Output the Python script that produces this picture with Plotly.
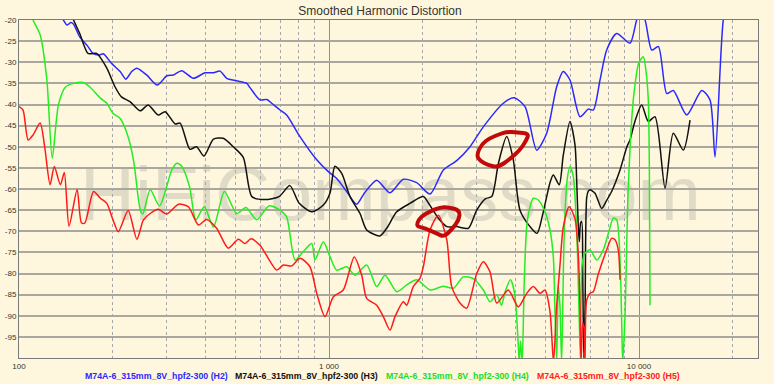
import plotly.graph_objects as go

# ---------------- data (frequency Hz, level dB) ----------------
h2 = [(135, -18), (139, -20), (143, -21.2), (147, -20.6), (150, -21), (157, -24), (167, -26.3),
      (173, -27.9), (181, -28.3), (187, -28), (199, -30.3), (212, -32.2), (221, -34), (231, -32.2),
      (240, -31.4), (258, -33), (279, -35.4), (300, -33.2), (315, -33), (335, -32), (365, -33.8),
      (398, -32.5), (424, -32.5), (445, -32.1), (468, -33.8), (504, -34.4), (543, -35), (556, -36),
      (599, -38.9), (630, -38.8), (653, -39.7), (695, -41.3), (730, -42.5), (806, -47.6), (913, -53.1),
      (995, -55.9), (1059, -57.5), (1140, -60.6), (1228, -63.6), (1300, -61), (1425, -57.9),
      (1573, -60.9), (1737, -57.7), (1918, -58.5), (2118, -61.2), (2338, -55.5), (2582, -53.3),
      (2850, -50), (3146, -45.3), (3650, -39.7), (3950, -38.4), (4289, -40.5), (4677, -50.8),
      (5038, -46.8), (5426, -35.8), (5698, -32.2), (5989, -34.2), (6452, -42.9), (6864, -41.1),
      (7123, -41.3), (7486, -34.2), (7867, -27.1), (8475, -23.2), (9354, -25.5), (9831, -20),
      (10100, -18.5), (10457, -20), (10990, -27.1), (11550, -26.3), (12290, -37.4), (12902, -36.7),
      (14256, -42.5), (15940, -36.7), (16944, -38.9), (17588, -52.4), (18702, -20), (19300, -16)]

h3 = [(145, -17), (150, -20), (157, -23.2), (167, -27.9), (178, -27.9), (192, -31.4), (204, -35.8),
      (214, -38.2), (228, -39.3), (246, -41.5), (261, -40.1), (281, -42.5), (296, -41.7), (319, -44.6),
      (331, -44.4), (356, -50.6), (374, -50), (395, -52.2), (424, -48.2), (456, -48), (491, -50),
      (529, -52.5), (564, -61.8), (620, -62.5), (690, -61.8), (748, -59.2), (800, -63.3), (880, -65.4),
      (959, -63.8), (1007, -61), (1045, -54.6), (1099, -56.3), (1169, -61.8), (1259, -65.8),
      (1323, -69.7), (1460, -71.1), (1535, -69.3), (1654, -65.4), (1825, -63.4), (2015, -61.8),
      (2100, -63.5), (2253, -66.9), (2400, -68.9), (2582, -68.9), (2815, -69.3), (2996, -65),
      (3200, -62.3), (3350, -61.8), (3520, -53.9), (3743, -47.6), (3931, -53.1), (4132, -65),
      (4451, -68.9), (4690, -70.5), (4912, -65.4), (5163, -58.5), (5291, -56.7), (5530, -59),
      (5698, -52), (5989, -44), (6215, -49.5), (6295, -58), (6371, -69), (6420, -72.5), (6480, -68),
      (6534, -67.7), (6583, -80), (6640, -100), (6700, -88), (6782, -62), (6864, -60.5), (6950, -60.2),
      (7214, -61), (7580, -64.6), (7867, -62.7), (8160, -60.6), (8686, -55.5), (9140, -50),
      (9354, -48.4), (9700, -44), (10202, -40.1), (10715, -44), (11262, -42.9), (12135, -59.8),
      (12902, -46.8), (13900, -50.8), (14608, -43.7)]

h4 = [(105, -14), (111, -20), (117, -23.5), (123, -34.2), (128, -52.7), (134, -40.1), (141, -35.9),
      (150, -35), (161, -34.8), (169, -35.8), (183, -38.5), (192, -39.7), (201, -42.1), (212, -43.3),
      (223, -46.8), (234, -53.1), (243, -62.6), (247, -65.3), (251, -65.9), (265, -60.2), (284, -64),
      (311, -55.5), (323, -53.9), (335, -54.6), (355, -59.5), (372, -67.3), (396, -64.2), (424, -69),
      (460, -60.6), (504, -65.8), (540, -64.4), (585, -67.3), (640, -64), (695, -65), (730, -66.6),
      (777, -76.8), (826, -74.8), (880, -72.9), (901, -76.8), (959, -72.5), (1007, -76), (1059, -79.2),
      (1140, -78.4), (1213, -80.4), (1323, -78), (1425, -83.1), (1516, -80.4), (1654, -84.3),
      (1781, -82.7), (1918, -81.5), (2118, -83.9), (2338, -83), (2518, -83.5), (2711, -80.8),
      (2921, -81.2), (3146, -83.9), (3306, -86.7), (3475, -85.1), (3600, -87.5), (3700, -84.3),
      (3850, -81.5), (3970, -84.7), (4080, -97), (4110, -101), (4150, -96), (4200, -101), (4260, -83),
      (4343, -68.9), (4451, -64.2), (4560, -62.2), (4730, -62.6), (4975, -65.4), (5163, -69.7),
      (5291, -76), (5358, -89), (5426, -101), (5491, -83), (5561, -88), (5630, -101), (5730, -72),
      (5860, -58), (5989, -54.7), (6138, -57), (6310, -72), (6410, -90), (6480, -101), (6550, -78),
      (6696, -75.2), (6950, -74.4), (7304, -76.8), (7671, -74.4), (8000, -70), (8263, -66.9),
      (8475, -67.3), (8686, -76.8), (8797, -92), (8860, -101), (9014, -90), (9230, -60), (9585, -38.9),
      (10000, -30), (10325, -28.7), (10530, -32), (10715, -38.9), (10800, -55), (10852, -87.5)]

h5 = [(100, -40.5), (103, -41.3), (107, -48.4), (111, -47.2), (117, -44.4), (121, -50), (126, -59),
      (130, -54.7), (136, -59), (140, -56.1), (145, -68.8), (154, -60.1), (159, -68), (163, -68.1),
      (174, -60.6), (183, -62.2), (192, -63.4), (201, -67.3), (209, -70.1), (225, -65.1), (240, -71.9),
      (252, -67.3), (265, -65.8), (281, -64.8), (300, -65.9), (327, -63.6), (352, -64.2), (379, -68.5),
      (403, -67.2), (434, -69.3), (473, -74), (510, -71.9), (536, -72.9), (560, -71.8), (599, -73.3),
      (678, -79.2), (712, -78), (758, -78.2), (806, -76.4), (868, -78.4), (913, -84.7), (971, -90.2),
      (1033, -85.5), (1112, -83.9), (1206, -76.1), (1275, -80.4), (1323, -85.9), (1425, -87.5),
      (1497, -90.2), (1573, -93.4), (1633, -90.2), (1737, -86.7), (1781, -87.5), (1870, -83.1),
      (1966, -81.1), (2015, -78.4), (2118, -69.7), (2253, -66.2), (2398, -72), (2488, -83.1),
      (2646, -87), (2781, -88.2), (2996, -80), (3146, -77.2), (3306, -79.6), (3475, -87),
      (3788, -83.9), (4080, -87.9), (4343, -84.7), (4560, -83.1), (4793, -84.7), (4975, -83.9),
      (5163, -89), (5300, -101), (5420, -88), (5561, -78), (5698, -69), (5950, -64.2), (6215, -67),
      (6371, -75.5), (6452, -88), (6500, -101), (6583, -91.8), (6650, -93), (6696, -101),
      (6782, -86.3), (6950, -84.7), (7123, -84.3), (7400, -80), (7867, -74.4), (8160, -71.7),
      (8368, -72), (8576, -74.5), (8686, -81.5)]

series_names = ["M74A-6_315mm_8V_hpf2-300 (H2)", "M74A-6_315mm_8V_hpf2-300 (H3)",
                "M74A-6_315mm_8V_hpf2-300 (H4)", "M74A-6_315mm_8V_hpf2-300 (H5)"]
series_colors = ["#2a2aff", "#111111", "#22ee22", "#ff1a1a"]
legend_colors = ["#2a2aff", "#111111", "#22dd22", "#ff2020"]

y_ticks = [-95, -90, -85, -80, -75, -70, -65, -60, -55, -50, -45, -40, -35, -30, -25, -20]
x_ticks = [100, 1000, 10000]
x_tick_labels = ["100", "1 000", "10 000"]
x_minor = [m * d for d in (100, 1000, 10000) for m in range(2, 10) if m * d < 24000]

# ---------------- layout helpers (pixel -> paper) ----------------
L, R, T, B = 19, 16, 20, 26
W, H = 774, 384
PW, PH = W - L - R, H - T - B


def px(x):
    return (x - L) / PW


def py(y):
    return (H - B - y) / PH


BG = "#FEF7DD"
fig = go.Figure()

for data, name, col in zip([h2, h3, h4, h5], series_names, series_colors):
    fig.add_trace(go.Scatter(
        x=[p[0] for p in data], y=[p[1] for p in data], mode="lines", name=name,
        line=dict(color=col, width=1.5, shape="spline", smoothing=0.7),
        showlegend=False, hoverinfo="x+y+name"))

# watermark
fig.add_shape(type="rect", xref="paper", yref="paper", x0=px(80), x1=px(701), y0=py(212), y1=py(160),
              line=dict(width=0), fillcolor="rgba(0,0,0,0)", layer="between",
              label=dict(text="HiFiCompass.com", textposition="middle center",
                         font=dict(family="Liberation Sans, Arial, sans-serif", size=76,
                                   color="rgba(128,128,128,0.24)")))


def loop_path(points):
    pts = [(px(a), py(b)) for a, b in points]
    n = len(pts)
    mids = [((pts[i][0] + pts[(i + 1) % n][0]) / 2, (pts[i][1] + pts[(i + 1) % n][1]) / 2) for i in range(n)]
    d = "M %.5f %.5f" % mids[-1]
    for i in range(n):
        d += " Q %.5f %.5f %.5f %.5f" % (pts[i][0], pts[i][1], mids[i][0], mids[i][1])
    return d + " Z"


loop_upper = [(476.5, 155), (481.7, 144), (490, 138), (500, 134), (507, 131.7), (517, 132.5),
              (529, 133.5), (526, 141), (520, 150), (510, 159), (498, 167.5), (488, 165), (480, 161)]
loop_lower = [(417, 223), (421, 216.5), (430, 211.5), (440, 207.3), (448.3, 207), (460, 210.5),
              (459, 220), (451.7, 229.5), (444, 237), (436.7, 233.3), (425, 228.3), (417.5, 226.5)]
for lp in (loop_upper, loop_lower):
    fig.add_shape(type="path", xref="paper", yref="paper", path=loop_path(lp),
                  line=dict(color="#C20808", width=4), layer="above")

# legend as coloured text
legend_x = [83, 233, 384, 535]
for name, col, lx in zip(series_names, legend_colors, legend_x):
    fig.add_annotation(text=name, xref="paper", yref="paper", x=px(lx), y=py(376),
                       xanchor="left", yanchor="middle", showarrow=False,
                       font=dict(family="Liberation Sans, Arial, sans-serif", size=8.8, color=col,
                                 weight="bold"))

fig.update_layout(
    width=W, height=H, autosize=False,
    margin=dict(l=L, r=R, t=T, b=B, pad=0, autoexpand=False),
    paper_bgcolor=BG, plot_bgcolor=BG,
    title=dict(text="Smoothed Harmonic Distortion", x=380 / W, xref="container", xanchor="center",
               y=1 - 11 / H, yref="container", yanchor="middle", automargin=False,
               font=dict(family="Liberation Sans, Arial, sans-serif", size=12, color="#333333")),
    font=dict(family="Liberation Sans, Arial, sans-serif", size=8, color="#333333"),
    xaxis=dict(type="log", range=[2, 2 + PW / 310.0], tickvals=x_ticks, ticktext=x_tick_labels,
               automargin=False,
               showgrid=True, gridcolor="#8f8f8f", gridwidth=1, zeroline=False,
               showline=True, linecolor="#7a7a7a", linewidth=1, mirror=True, ticks="",
               tickfont=dict(size=8, color="#333333"),
               minor=dict(tickvals=x_minor, showgrid=True, gridcolor="#a8a8a8", griddash="dot",
                          gridwidth=1, ticks="")),
    yaxis=dict(range=[-100, -20], tickvals=y_ticks, ticktext=[str(v) for v in y_ticks],
               automargin=False,
               showgrid=True, gridcolor="#aaa79e", gridwidth=1.8, zeroline=False,
               showline=True, linecolor="#7a7a7a", linewidth=1, mirror=True, ticks="",
               tickfont=dict(size=8, color="#333333")),
)

fig.write_html("out.html", config={"displayModeBar": False},
               post_script="document.body.style.margin='0';")
